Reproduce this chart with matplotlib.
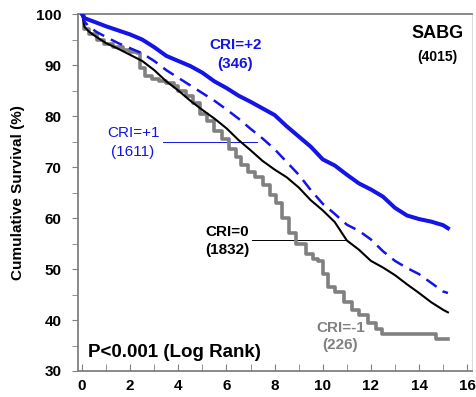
import numpy as np
import matplotlib.pyplot as plt
from matplotlib.ticker import MultipleLocator

plt.rcParams['font.family'] = ['Liberation Sans', 'DejaVu Sans']
plt.rcParams['font.weight'] = 'bold'

# Sobrevida acumulada (%) por ano
t_p2 = [0, 0.1, 0.5, 1.0, 1.5, 2.0, 2.5, 3.0, 3.5, 4.0, 4.5, 5.0, 5.5, 6.0, 6.5, 7.0, 7.5,
        8.0, 8.5, 9.0, 9.5, 10.0, 10.5, 11.0, 11.5, 12.0, 12.5, 13.0, 13.5, 14.0, 14.5, 15.0, 15.2]
s_p2 = [100, 99.2, 98.5, 97.6, 96.8, 96.0, 95.0, 93.5, 91.8, 90.8, 89.8, 88.5, 86.8, 85.5, 84.0,
        82.8, 81.5, 80.2, 78.0, 76.0, 74.0, 71.5, 70.3, 68.5, 66.8, 65.6, 64.2, 62.0, 60.5, 59.8,
        59.3, 58.6, 58.0]

t_p1 = [0, 0.1, 0.3, 0.6, 1.0, 1.5, 2.0, 2.5, 3.0, 3.5, 4.0, 4.5, 5.0, 5.5, 6.0, 6.5, 7.0, 7.5,
        8.0, 8.5, 9.0, 9.5, 10.0, 10.5, 11.0, 11.5, 12.0, 12.5, 13.0, 13.5, 14.0, 14.5, 15.0, 15.2]
s_p1 = [100, 98.5, 97.5, 96.5, 95.5, 94.3, 93.3, 92.3, 90.8, 89.0, 87.5, 86.0, 84.5, 83.0, 81.3,
        79.5, 77.5, 75.6, 73.5, 71.0, 68.5, 65.5, 62.8, 60.8, 58.7, 57.5, 55.8, 53.5, 51.6, 50.2,
        49.0, 47.3, 45.6, 45.3]

t_0 = [0, 0.1, 0.3, 0.6, 1.0, 1.5, 2.0, 2.5, 3.0, 3.5, 4.0, 4.5, 5.0, 5.5, 6.0, 6.5, 7.0, 7.5,
       8.0, 8.5, 9.0, 9.5, 10.0, 10.5, 11.0, 11.5, 12.0, 12.5, 13.0, 13.5, 14.0, 14.5, 15.0, 15.2]
s_0 = [100, 97.5, 96.5, 95.5, 94.3, 93.2, 92.0, 90.8, 89.0, 86.8, 85.0, 83.0, 81.2, 79.5, 77.6,
       75.3, 73.3, 71.2, 69.5, 68.0, 66.0, 63.5, 61.5, 59.2, 55.6, 53.8, 51.6, 50.3, 48.8, 47.0,
       45.3, 43.5, 42.0, 41.5]

t_m1 = [0, 0.1, 0.3, 0.6, 0.9, 1.3, 1.7, 2.0, 2.3, 2.4, 2.6, 2.9, 3.2, 3.5, 3.8, 4.0, 4.3, 4.6,
        4.9, 5.2, 5.5, 5.8, 6.1, 6.4, 6.6, 6.9, 7.2, 7.5, 7.8, 8.05, 8.3, 8.6, 8.9, 9.3, 9.6, 9.8,
        10.0, 10.2, 10.5, 10.9, 11.2, 11.5, 11.9, 12.2, 12.45, 14.7, 15.2]
s_m1 = [100, 97.0, 96.0, 95.0, 94.2, 93.5, 93.0, 92.6, 92.3, 89.5, 87.8, 87.2, 86.8, 86.4, 85.8,
        85.0, 84.0, 82.5, 80.5, 79.0, 77.0, 75.5, 73.5, 72.0, 70.5, 69.0, 68.0, 66.5, 64.5, 63.0,
        60.0, 57.0, 55.0, 53.0, 52.0, 51.5, 49.0, 46.5, 45.5, 43.5, 42.0, 41.0, 39.5, 38.3, 37.3,
        36.3, 36.3]

blue = '#1414e6'
grey = '#808080'

fig = plt.figure(figsize=(4.77, 3.97), dpi=100)
ax = fig.add_axes([0.1635, 0.0655, 0.826, 0.899])

ax.plot(t_m1, s_m1, color=grey, lw=2.6, drawstyle='steps-post', zorder=2)
ax.plot(t_0, s_0, color='black', lw=1.5, zorder=3)
ax.plot(t_p1, s_p1, color=blue, lw=1.8, dashes=(5, 3), zorder=4)
ax.plot(t_p2, s_p2, color=blue, lw=2.9, zorder=5)

# linhas indicadoras dos rotulos
ax.plot([3.35, 7.27], [74.9, 74.9], color=blue, lw=0.7, zorder=1)
ax.plot([7.07, 11.0], [55.7, 55.7], color='black', lw=0.7, zorder=1)

ax.text(6.36, 93.9, 'CRI=+2', color=blue, fontsize=11, ha='center', va='center')
ax.text(6.36, 90.2, '(346)', color=blue, fontsize=11, ha='center', va='center')
ax.text(14.76, 96.1, 'SABG', color='black', fontsize=13, ha='center', va='center')
ax.text(14.76, 91.6, '(4015)', color='black', fontsize=10, ha='center', va='center')
ax.text(2.12, 76.7, 'CRI=+1', color=blue, fontsize=11, fontweight='normal', ha='center', va='center')
ax.text(2.12, 72.9, '(1611)', color=blue, fontsize=11, fontweight='normal', ha='center', va='center')
ax.text(6.03, 57.3, 'CRI=0', color='black', fontsize=11, ha='center', va='center')
ax.text(6.03, 53.7, '(1832)', color='black', fontsize=11, ha='center', va='center')
ax.text(10.73, 38.4, 'CRI=-1', color=grey, fontsize=11, ha='center', va='center')
ax.text(10.73, 35.1, '(226)', color=grey, fontsize=11, ha='center', va='center')
ax.text(0.25, 33.7, 'P<0.001 (Log Rank)', color='black', fontsize=13.5, ha='left', va='center')

ax.set_xlim(-0.17, 16.2)
ax.set_ylim(30, 100)
ax.xaxis.set_major_locator(MultipleLocator(2))
ax.xaxis.set_minor_locator(MultipleLocator(1))
ax.yaxis.set_major_locator(MultipleLocator(10))
ax.yaxis.set_minor_locator(MultipleLocator(5))
ax.tick_params(axis='x', which='both', direction='in', length=5, color=grey, labelsize=11, pad=6)
ax.tick_params(axis='y', which='both', direction='out', length=4, color=grey, labelsize=11, pad=8)

for s in ['left', 'bottom', 'top']:
    ax.spines[s].set_color(grey)
    ax.spines[s].set_linewidth(1.3)
ax.spines['right'].set_color('#dddddd')
ax.spines['right'].set_linewidth(0.8)

ax.set_ylabel('Cumulative Survival (%)', fontsize=11, fontweight='bold', labelpad=8)

fig.savefig('out.png', dpi=100)
